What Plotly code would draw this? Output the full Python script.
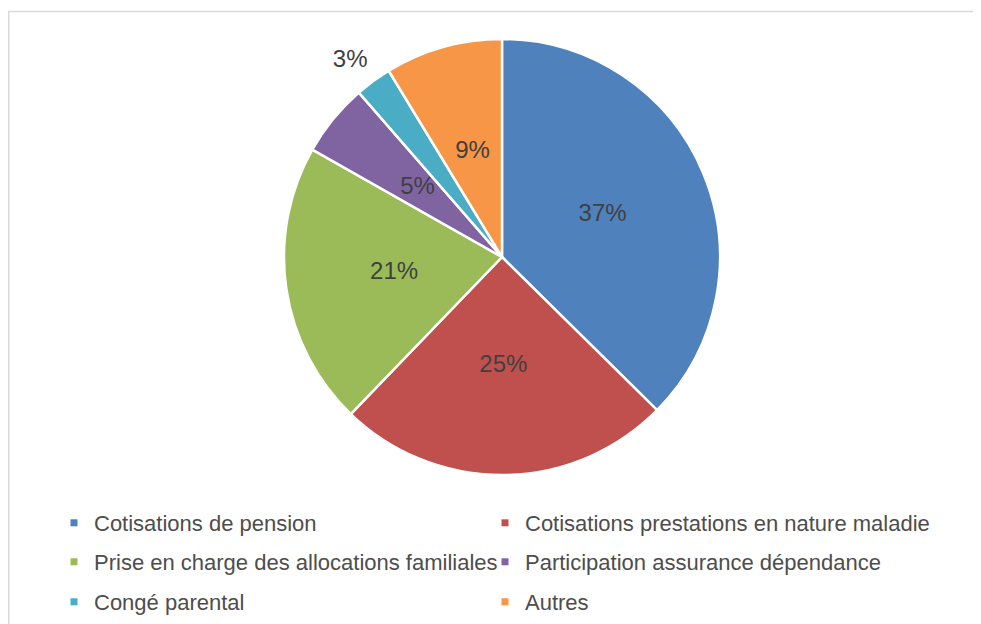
import numpy as np
import plotly.graph_objects as go

# Répartition des dépenses (parts en %)
categories = [
    "Cotisations de pension",
    "Cotisations prestations en nature maladie",
    "Prise en charge des allocations familiales",
    "Participation assurance dépendance",
    "Congé parental",
    "Autres",
]
parts = [37.4, 24.8, 21.0, 5.4, 2.7, 8.7]
couleurs = ["#4F81BD", "#C0504D", "#9BBB59", "#8064A2", "#4BACC6", "#F79646"]
# distance de l'étiquette au centre (1 = bord du camembert)
dist_etiquette = [0.5, 0.5, 0.5, 0.5, 1.045, 0.5]
pos_etiquette = ["middle center"] * 4 + ["top left", "middle center"]

W, H = 981, 624
POLICE = "Liberation Sans, Arial, sans-serif"
GRIS = "#404040"

# position du camembert (pixels dans la figure) ; l'axe radial va jusqu'à 1.05
cx, cy, r = 494, 249, 218
r_max = 1.05
R = r * r_max
domaine = dict(x=[(cx - R) / W, (cx + R) / W], y=[1 - (cy + R) / H, 1 - (cy - R) / H])

total = sum(parts)
pct = np.array(parts) / total
largeurs = pct * 360
milieux = (np.cumsum(pct) - pct / 2) * 360
etiquettes = [f"{round(p * 100)}%" for p in pct]

fig = go.Figure()

# secteurs du camembert (barres polaires pleines)
fig.add_trace(go.Barpolar(
    r=[1] * len(parts),
    theta=milieux,
    width=largeurs,
    marker=dict(color=couleurs, line=dict(color="white", width=2.5)),
    customdata=categories,
    hovertemplate="%{customdata}<extra></extra>",
    showlegend=False,
))

# étiquettes de pourcentage
fig.add_trace(go.Scatterpolar(
    r=dist_etiquette,
    theta=milieux,
    mode="text",
    text=etiquettes,
    textposition=pos_etiquette,
    textfont=dict(family=POLICE, size=24, color=GRIS),
    cliponaxis=False,
    hoverinfo="skip",
    showlegend=False,
))

# légende : une petite légende par entrée, trois lignes de deux colonnes
col_x = [46, 477, 46, 477, 46, 477]
ligne_y = [515, 515, 554, 554, 594, 594]
legendes = {}
for i, (nom, coul) in enumerate(zip(categories, couleurs)):
    cle = "legend" if i == 0 else f"legend{i + 1}"
    fig.add_trace(go.Scatterpolar(
        r=[None], theta=[None],
        mode="markers",
        name=nom,
        marker=dict(symbol="square", size=7, color=coul),
        legend=cle,
        hoverinfo="skip",
    ))
    legendes[cle] = dict(
        orientation="h",
        x=col_x[i] / W, xanchor="left",
        y=1 - ligne_y[i] / H, yanchor="middle",
        itemsizing="trace",
        font=dict(family=POLICE, size=22, color="#4D4D4D"),
        bgcolor="rgba(0,0,0,0)",
    )

fig.update_layout(
    width=W, height=H,
    margin=dict(l=0, r=0, t=0, b=0),
    paper_bgcolor="white",
    font=dict(family=POLICE, color=GRIS),
    polar=dict(
        domain=domaine,
        bgcolor="rgba(0,0,0,0)",
        bargap=0,
        angularaxis=dict(rotation=90, direction="clockwise", visible=False),
        radialaxis=dict(range=[0, r_max], visible=False),
    ),
    shapes=[dict(
        type="rect", xref="paper", yref="paper",
        x0=0.75 / W, x1=1.05, y0=-0.05, y1=1 - 3.5 / H,
        line=dict(color="#D9D9D9", width=1.5),
    )],
    **legendes,
)

fig.write_html("out.html")
